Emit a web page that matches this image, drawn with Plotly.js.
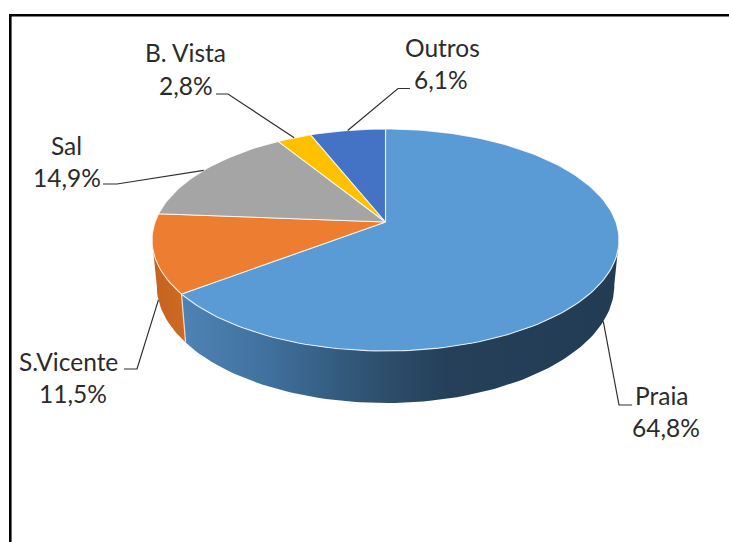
<!DOCTYPE html>
<html>
<head>
<meta charset="utf-8">
<script src="https://cdn.plot.ly/plotly-3.0.1.min.js"></script>
<style>html,body{margin:0;padding:0;background:#fff}#chart{width:729px;height:542px}</style>
</head>
<body>
<div id="chart"></div>
<script>
// Data
const categories = ['Praia', 'S.Vicente', 'Sal', 'B. Vista', 'Outros'];
const shares = [64.8, 11.5, 14.9, 2.8, 6.1];
const colors = ['#5B9BD5', '#ED7D31', '#A5A5A5', '#FFC000', '#4472C4'];

// Label placement: [name x, name y, pct x, pct y]
const labelPos = [
  [661, 395, 666, 427],
  [68, 361, 73, 393],
  [66, 145, 67, 177],
  [185, 52, 186, 85],
  [442, 47, 441, 79]
];
// Leader elbows: [text end x, elbow x, y]
const leaderElbows = [
  [632, 619, 405],
  [124, 137, 369],
  [103, 117, 184],
  [216, 228, 94],
  [410, 398, 88.5]
];

// Perspective of the disc
const CX = 385.5, APEX = 222, R = 230.4, C = 108.1, K = 0.162;
const BASE_SX = 0.98, BASE_SY = 1.06, BASE_OFF = 44.3;
const SIDE_START = 99, SIDE_END = 261;
const total = shares.reduce((a, b) => a + b, 0);

function topPt(deg) {
  const t = deg * Math.PI / 180, u = Math.sin(t), v = Math.cos(t), w = 1 + K * v;
  return [CX + R * u / w, APEX - C * v / w];
}
function basePt(deg) {
  const p = topPt(deg);
  return [CX + (p[0] - CX) * BASE_SX, APEX + BASE_OFF + (p[1] - APEX) * BASE_SY];
}
function arc(fn, a, b) {
  const n = Math.max(2, Math.ceil(Math.abs(b - a) / 1.5)), out = [];
  for (let i = 0; i <= n; i++) out.push(fn(a + (b - a) * i / n));
  return out;
}
const edges = [0];
shares.forEach(s => edges.push(edges[edges.length - 1] + s / total * 360));

const traces = [];
function sideTrace(a, b, scale) {
  const pts = arc(topPt, a, b).concat(arc(basePt, b, a));
  pts.push(pts[0]);
  traces.push({
    type: 'scatter', mode: 'lines', hoverinfo: 'skip', showlegend: false,
    x: pts.map(p => p[0]), y: pts.map(p => p[1]),
    line: {width: 0}, fill: 'toself',
    fillgradient: {type: 'horizontal', colorscale: scale}
  });
}
sideTrace(SIDE_START, edges[1], [[0, '#4f83b5'], [0.2, '#40709d'], [0.42, '#2f5373'], [0.6, '#26405a'], [1, '#233c54']]);
sideTrace(edges[1], SIDE_END, [[0, '#c4621f'], [1, '#cd6b24']]);
// Divider between side faces
const d0 = topPt(edges[1]), d1 = basePt(edges[1]);
traces.push({type: 'scatter', mode: 'lines', hoverinfo: 'skip', showlegend: false,
  x: [d0[0], d1[0]], y: [d0[1], d1[1]], line: {color: '#e8dccf', width: 1.2}});

// Top faces
shares.forEach((s, i) => {
  const pts = [[CX, APEX]].concat(arc(topPt, edges[i], edges[i + 1]));
  pts.push([CX, APEX]);
  traces.push({
    type: 'scatter', mode: 'lines', name: categories[i], showlegend: false, hoverinfo: 'skip',
    x: pts.map(p => p[0]), y: pts.map(p => p[1]),
    line: {color: 'rgba(255,255,255,0.8)', width: 1.1}, fill: 'toself', fillcolor: colors[i]
  });
});

// Leaders start on the mid-angle of each slice
shares.forEach((s, i) => {
  const mid = (edges[i] + edges[i + 1]) / 2;
  const end = (i < 2) ? basePt(mid) : topPt(mid);
  const e = leaderElbows[i];
  traces.push({type: 'scatter', mode: 'lines', hoverinfo: 'skip', showlegend: false,
    x: [e[0], e[1], end[0]], y: [e[2], e[2], end[1]],
    line: {color: '#303030', width: 1.2}});
});

const font = {family: 'Lato, Carlito, sans-serif', size: 24.5, color: '#2b2b2b'};
const annotations = [];
categories.forEach((c, i) => {
  const p = labelPos[i];
  annotations.push({x: p[0], y: p[1], text: c, showarrow: false, font, xanchor: 'center', yanchor: 'middle'});
  annotations.push({x: p[2], y: p[3], text: shares[i].toFixed(1).replace('.', ',') + '%', showarrow: false, font, xanchor: 'center', yanchor: 'middle'});
});

const layout = {
  width: 729, height: 542,
  margin: {l: 0, r: 0, t: 0, b: 0},
  paper_bgcolor: '#fff', plot_bgcolor: '#fff',
  xaxis: {range: [0, 729], visible: false, fixedrange: true},
  yaxis: {range: [542, 0], visible: false, fixedrange: true},
  showlegend: false,
  annotations,
  shapes: [
    {type: 'line', xref: 'x', yref: 'y', x0: 10.3, x1: 10.3, y0: 14, y1: 542, line: {color: '#000', width: 2.6}},
    {type: 'line', xref: 'x', yref: 'y', x0: 9, x1: 729, y0: 15.2, y1: 15.2, line: {color: '#000', width: 2.6}}
  ]
};
Plotly.newPlot('chart', traces, layout, {displayModeBar: false, staticPlot: true});
</script>
</body>
</html>
